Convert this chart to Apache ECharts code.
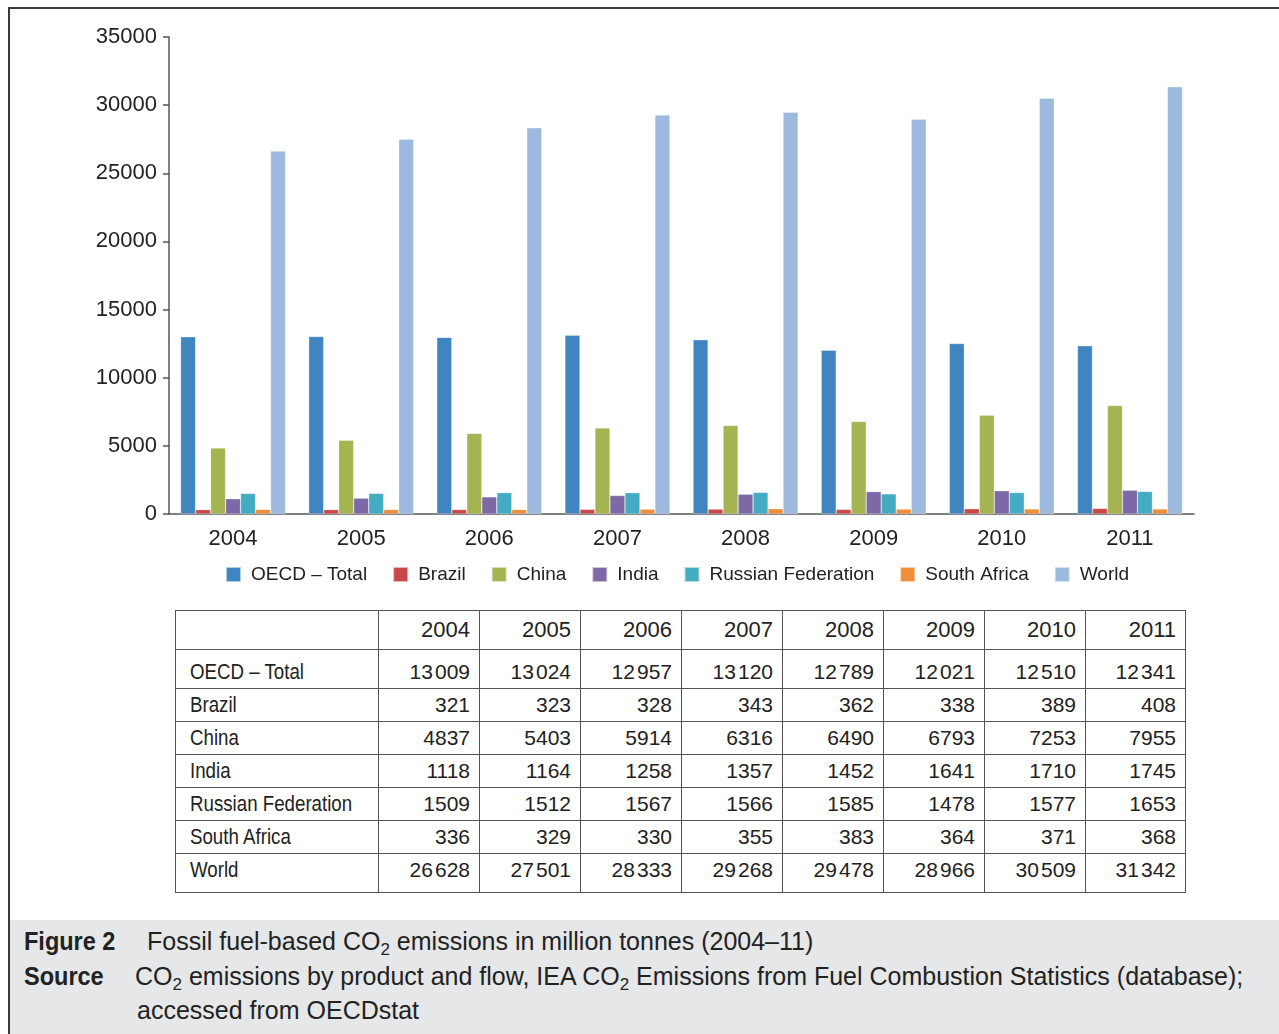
<!DOCTYPE html>
<html>
<head>
<meta charset="utf-8">
<script src="https://cdn.jsdelivr.net/npm/echarts@6/dist/echarts.min.js"></script>
<style>
  html, body { margin: 0; padding: 0; background: #fff; }
  body { width: 1279px; height: 1034px; position: relative; overflow: hidden; }
  #frame {
    position: absolute; left: 8px; top: 7px; width: 1290px; height: 1040px;
    border-left: 2px solid #3a3a3a; border-top: 2px solid #3a3a3a;
  }
  #chart { position: absolute; left: 0; top: 0; width: 1279px; height: 600px; }
  #tbl {
    position: absolute; left: 175px; top: 610px;
    border-collapse: collapse; table-layout: fixed; width: 1010px;
    font-family: 'Liberation Sans', Arial, sans-serif; font-size: 21px; color: #222;
  }
  #tbl td { border: 1.5px solid #555; padding: 0 9px 0 4px; height: 32px; text-align: right; white-space: nowrap; overflow: hidden; }
  #tbl td.name { text-align: left; padding-left: 14px; font-size: 22px; }
  #tbl td.name span { display: inline-block; transform: scaleX(0.85); transform-origin: left center; }
  #tbl tr.head td { height: 38px; font-size: 22px; }
  #tbl tr.first td { height: 32px; padding-top: 6px; }
  #tbl tr.last td { height: 32px; padding-bottom: 6px; }
  .g { display: inline-block; width: 2px; }
  #caption {
    position: absolute; left: 10px; top: 920px; width: 1269px; height: 114px;
    background: #e6e7e8; color: #222;
    font-family: 'Liberation Sans', Arial, sans-serif; font-size: 25px;
  }
  #caption .line { position: absolute; white-space: nowrap; }
  #caption b { position: absolute; left: 14px; display: inline-block; transform: scaleX(0.94); transform-origin: left center; }
  sub { font-size: 17px; vertical-align: -5px; line-height: 0; }
</style>
</head>
<body>
<div id="frame"></div>
<div id="chart"></div>
<table id="tbl"></table>
<div id="caption">
  <div class="line" style="top:7px;left:0"><b>Figure 2</b></div>
  <div class="line" style="top:7px;left:137px">Fossil fuel-based CO<sub>2</sub> emissions in million tonnes (2004–11)</div>
  <div class="line" style="top:42px;left:0"><b>Source</b></div>
  <div class="line" style="top:42px;left:125px">CO<sub>2</sub> emissions by product and flow, IEA CO<sub>2</sub> Emissions from Fuel Combustion Statistics (database);</div>
  <div class="line" style="top:76px;left:127px">accessed from OECDstat</div>
</div>
<script>
  const years = ['2004', '2005', '2006', '2007', '2008', '2009', '2010', '2011']
  const seriesNames = ['OECD – Total', 'Brazil', 'China', 'India', 'Russian Federation', 'South Africa', 'World']
  const oecd = [13009, 13024, 12957, 13120, 12789, 12021, 12510, 12341]
  const brazil = [321, 323, 328, 343, 362, 338, 389, 408]
  const china = [4837, 5403, 5914, 6316, 6490, 6793, 7253, 7955]
  const india = [1118, 1164, 1258, 1357, 1452, 1641, 1710, 1745]
  const russia = [1509, 1512, 1567, 1566, 1585, 1478, 1577, 1653]
  const southAfrica = [336, 329, 330, 355, 383, 364, 371, 368]
  const world = [26628, 27501, 28333, 29268, 29478, 28966, 30509, 31342]
  const yTicks = [0, 5000, 10000, 15000, 20000, 25000, 30000, 35000]

  const allData = [oecd, brazil, china, india, russia, southAfrica, world]
  const colors = ['#3f86c1', '#c9484a', '#a3b451', '#7e68a5', '#44acc2', '#ee8d3a', '#9bbadd']
  const font = "'Liberation Sans', Arial, sans-serif"

  let chart = echarts.init(document.getElementById('chart'))
  chart.setOption({
    animation: false,
    color: colors,
    grid: { left: 169, right: 85, top: 37, bottom: 86 },
    legend: {
      left: 225,
      top: 565,
      padding: 0,
      itemWidth: 15,
      itemHeight: 15,
      itemGap: 25,
      icon: 'rect',
      textStyle: { fontFamily: font, fontSize: 19, color: '#222', padding: [0, 0, 0, 5] },
      data: seriesNames
    },
    xAxis: {
      type: 'category',
      data: years,
      axisLine: { lineStyle: { color: '#555', width: 1.5 } },
      axisTick: { length: 6, lineStyle: { color: '#555', width: 1.5 } },
      axisLabel: { fontFamily: font, fontSize: 22, color: '#222', margin: 14 }
    },
    yAxis: {
      type: 'value',
      min: yTicks[0],
      max: yTicks[yTicks.length - 1],
      interval: 5000,
      axisLine: { show: true, lineStyle: { color: '#555', width: 1.5 } },
      axisTick: { show: true, length: 6, lineStyle: { color: '#555', width: 1.5 } },
      splitLine: { show: false },
      axisLabel: { fontFamily: font, fontSize: 22, color: '#222', margin: 12, formatter: v => String(v) }
    },
    series: seriesNames.map((name, i) => ({
      name: name,
      type: 'bar',
      data: allData[i],
      barWidth: 15,
      barGap: '0%',
      itemStyle: { borderColor: 'rgba(255,255,255,0.6)', borderWidth: 0.5 }
    }))
  })

  // data table under the chart
  function fmt (v) {
    let s = String(v)
    if (s.length > 4) return s.slice(0, s.length - 3) + '<span class="g"></span>' + s.slice(-3)
    return s
  }
  let colDefs = '<colgroup><col style="width:203px">' + years.map((y, i) => '<col style="width:' + (i === years.length - 1 ? 100 : 101) + 'px">').join('') + '</colgroup>'
  let html = colDefs + '<tr class="head"><td class="name"></td>' + years.map(y => '<td>' + y + '</td>').join('') + '</tr>'
  seriesNames.forEach((name, i) => {
    let cls = i === 0 ? 'first' : (i === seriesNames.length - 1 ? 'last' : '')
    html += '<tr class="' + cls + '"><td class="name"><span>' + name + '</span></td>' +
      allData[i].map(v => '<td>' + fmt(v) + '</td>').join('') + '</tr>'
  })
  document.getElementById('tbl').innerHTML = html
</script>
</body>
</html>
